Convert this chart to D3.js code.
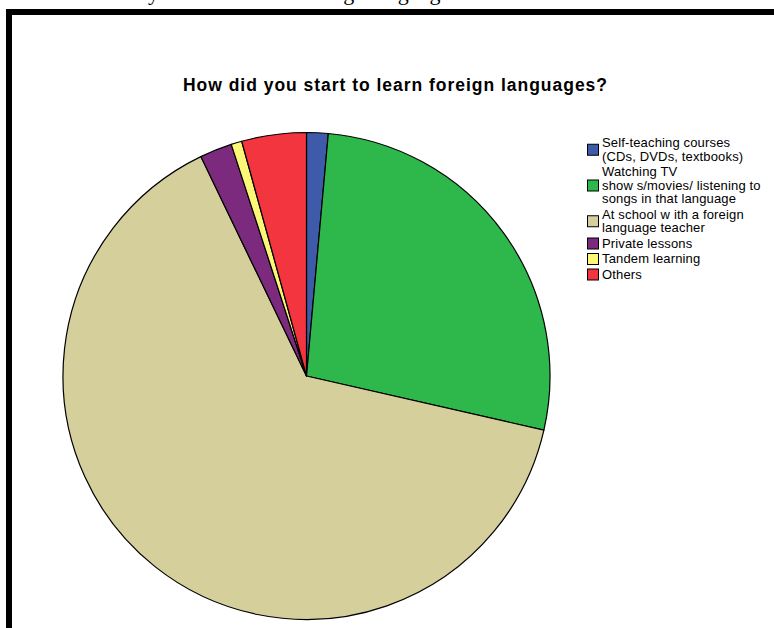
<!DOCTYPE html>
<html>
<head>
  <meta charset="utf-8">
  <script src="https://d3js.org/d3.v7.min.js"></script>
  <style>
    html, body { margin: 0; padding: 0; background: #ffffff; }
    svg { display: block; }
    .slice { stroke: #000000; stroke-width: 1.2; stroke-linejoin: round; }
    .legend-box { stroke: #000000; stroke-width: 1; }
    .legend-text { font-family: "Liberation Sans", Arial, sans-serif; font-size: 13px; letter-spacing: 0.15px; fill: #000000; }
    .title { font-family: "Liberation Sans", Arial, sans-serif; font-size: 17.5px; font-weight: bold; fill: #000000; }
    .caption { font-family: "Liberation Serif", "Times New Roman", serif; font-size: 22px; fill: #000000; }
  </style>
</head>
<body>
<svg id="canvas" width="774" height="628"></svg>
<script>
  // answers, clockwise from 12 o'clock
  const categories = ["Self-teaching courses", "Watching TV", "At school", "Private lessons", "Tandem learning", "Others"];
  const counts = [2, 38, 90, 3, 1, 6];
  const colors = ["#3d5ba9", "#2eb84b", "#d4cf9b", "#7b2a7e", "#fcf777", "#f2353f"];
  // legend text as printed (line breaks kept)
  const legendLines = [
    ["Self-teaching courses", "(CDs, DVDs, textbooks)"],
    ["Watching TV", "show s/movies/ listening to", "songs in that language"],
    ["At school w ith a foreign", "language teacher"],
    ["Private lessons"],
    ["Tandem learning"],
    ["Others"]
  ];
  const title = "How did you start to learn foreign languages?";
  const caption = "How did you start to learn foreign languages?";

  const svg = d3.select("#canvas");

  // cut-off caption of the page above the frame
  svg.append("text")
      .attr("class", "caption")
      .attr("x", 66)
      .attr("y", -0.5)
      .text(caption);

  // frame (only top and left edges are visible)
  svg.append("path")
      .attr("d", "M 9,628 L 9,12 L 774,12")
      .attr("fill", "none")
      .attr("stroke", "#000")
      .attr("stroke-width", 6);

  svg.append("text")
      .attr("class", "title")
      .attr("x", 183)
      .attr("y", 91)
      .attr("textLength", 424)
      .attr("lengthAdjust", "spacing")
      .text(title);

  // pie
  const cx = 306.5, cy = 376, r = 243.5;
  const pie = d3.pie().sort(null).value(d => d);
  const arc = d3.arc().innerRadius(0).outerRadius(r);

  const g = svg.append("g").attr("transform", `translate(${cx},${cy})`);
  g.selectAll("path")
    .data(pie(counts))
    .join("path")
      .attr("class", "slice")
      .attr("d", arc)
      .attr("fill", (d, i) => colors[i]);

  // legend
  const legend = svg.append("g");
  const lineH = 13.5, itemGap = 15.5;
  let y = 147;
  legendLines.forEach((lines, i) => {
    const first = y;
    const last = y + (lines.length - 1) * lineH;
    const mid = (first + last) / 2 - 4;
    legend.append("rect")
        .attr("class", "legend-box")
        .attr("x", 587.5)
        .attr("y", mid - 5.5)
        .attr("width", 11)
        .attr("height", 11)
        .attr("fill", colors[i]);
    lines.forEach((t, j) => {
      legend.append("text")
          .attr("class", "legend-text")
          .attr("x", 602)
          .attr("y", first + j * lineH)
          .text(t);
    });
    y = last + itemGap;
  });
</script>
</body>
</html>
